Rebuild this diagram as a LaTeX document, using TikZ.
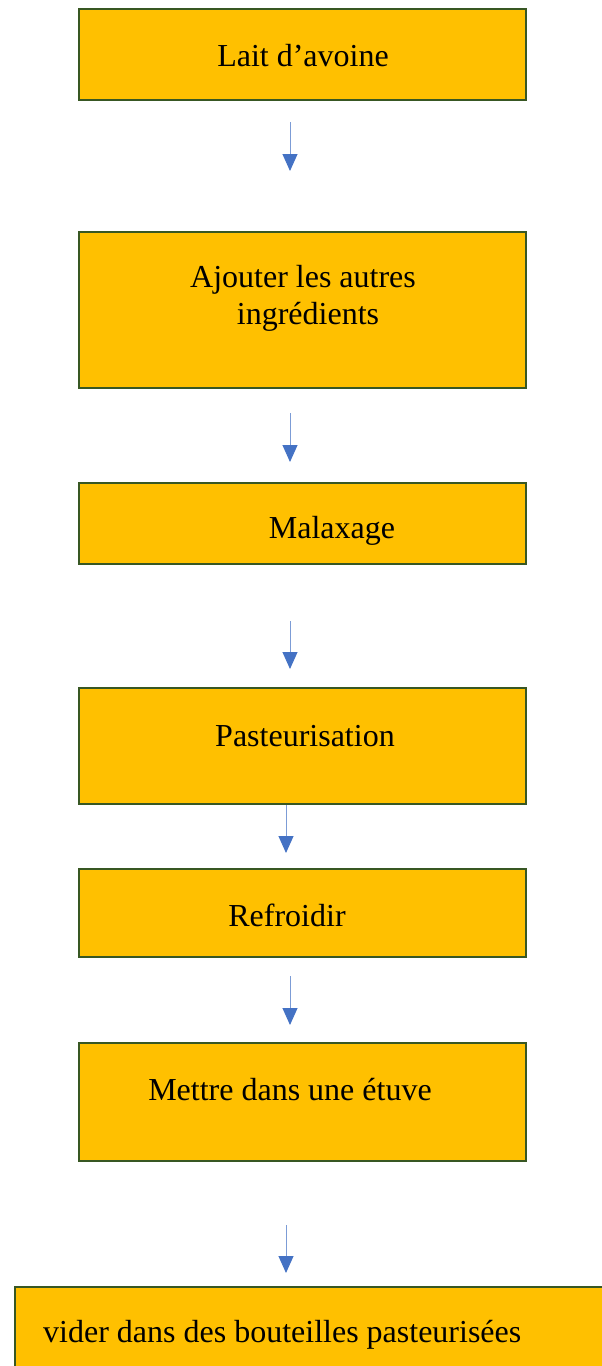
\documentclass[tikz,border=0pt]{standalone}
\usepackage{fontspec}
\setmainfont{Liberation Serif}
\usetikzlibrary{arrows.meta}
\definecolor{boxfill}{HTML}{FFC000}
\definecolor{boxline}{HTML}{385723}
\definecolor{arr}{HTML}{4472C4}
\tikzset{
  stepbox/.style={draw=boxline, line width=2pt, fill=boxfill, minimum width=447pt, inner sep=0pt},
  lbl/.style={font=\fontsize{32}{37}\selectfont, inner sep=0pt, align=left},
  flow/.style={draw=arr!70, line width=1pt, -{Triangle[width=15pt,length=17pt,fill=arr,color=arr]}}
}
\begin{document}
\begin{tikzpicture}[x=1pt,y=-1pt]
\useasboundingbox (0,0) rectangle (602,1366);
\begin{scope}
\clip (0,0) rectangle (602,1366);
\node[stepbox, minimum height=91pt] (b1) at (302.5,54.5) {};
\node[stepbox, minimum height=156pt] (b2) at (302.5,310) {};
\node[stepbox, minimum height=81pt] (b3) at (302.5,523.5) {};
\node[stepbox, minimum height=116pt] (b4) at (302.5,746) {};
\node[stepbox, minimum height=88pt] (b5) at (302.5,913) {};
\node[stepbox, minimum height=118pt] (b6) at (302.5,1102) {};
\node[stepbox, minimum width=700pt, minimum height=120pt, anchor=north west] (b7) at (14,1286) {};
\end{scope}
\node[lbl] (t1) at (303,56) {Lait d’avoine};
\node[lbl, align=center] (t2) at (303,298) {Ajouter les autres\\\hspace*{10pt}ingrédients};
\node[lbl] (t3) at (332,531) {Malaxage};
\node[lbl] (t4) at (305,736) {Pasteurisation};
\node[lbl] (t5) at (287,915) {Refroidir};
\node[lbl] (t6) at (290,1090) {Mettre dans une étuve};
\node[lbl, anchor=west] (t7) at (43,1335) {vider dans des bouteilles pasteurisées};
\coordinate (a1s) at (290,122); \coordinate (a1e) at (290,171);
\coordinate (a2s) at (290,413); \coordinate (a2e) at (290,462);
\coordinate (a3s) at (290,621); \coordinate (a3e) at (290,669);
\coordinate (a4s) at (286,805); \coordinate (a4e) at (286,853);
\coordinate (a5s) at (290,976); \coordinate (a5e) at (290,1025);
\coordinate (a6s) at (286,1225); \coordinate (a6e) at (286,1273);
\draw[flow] (a1s) -- (a1e);
\draw[flow] (a2s) -- (a2e);
\draw[flow] (a3s) -- (a3e);
\draw[flow] (a4s) -- (a4e);
\draw[flow] (a5s) -- (a5e);
\draw[flow] (a6s) -- (a6e);
\end{tikzpicture}
\end{document}
